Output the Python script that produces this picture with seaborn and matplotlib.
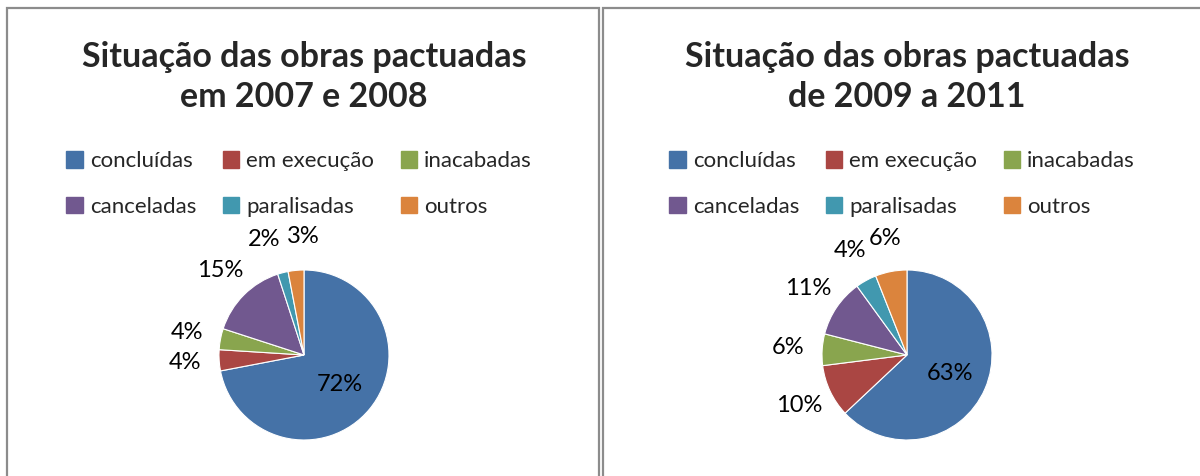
import matplotlib
matplotlib.use("Agg")
import matplotlib.pyplot as plt
import matplotlib.patches as mpatches
import numpy as np
import seaborn as sns

sns.set_theme(style="white")
plt.rcParams['font.family'] = ['Lato', 'DejaVu Sans']

categories = ["concluídas", "em execução", "inacabadas", "canceladas", "paralisadas", "outros"]
values_2007_2008 = [72, 4, 4, 15, 2, 3]
values_2009_2011 = [63, 10, 6, 11, 4, 6]
titles = ["Situação das obras pactuadas\nem 2007 e 2008",
          "Situação das obras pactuadas\nde 2009 a 2011"]
colors = sns.color_palette(["#4572A7", "#AA4643", "#89A54E", "#71588F", "#4198AF", "#DB843D"])

W, H = 1200, 476
fig = plt.figure(figsize=(12, 4.76), dpi=100)

# panel borders
for x0, x1 in [(7, 599), (603, 1205)]:
    rect = mpatches.Rectangle((x0 / W, -0.05), (x1 - x0) / W, (H - 8) / H + 0.05,
                              transform=fig.transFigure, fill=False,
                              edgecolor="#8c8c8c", linewidth=1.6, clip_on=False)
    fig.patches.append(rect)

centers = [(304, 355), (907, 355)]
R = 85
lim = 1.6
half = R * lim

renderer = fig.canvas.get_renderer()

for (cx, cy), vals, title in zip(centers, [values_2007_2008, values_2009_2011], titles):
    ax = fig.add_axes([(cx - half) / W, (H - cy - half) / H, 2 * half / W, 2 * half / H])
    wedges, texts, autotexts = ax.pie(vals, colors=colors, startangle=90, counterclock=False,
                                      autopct="%d%%", pctdistance=1.4,
                                      wedgeprops=dict(edgecolor="white", linewidth=0.8),
                                      textprops=dict(fontsize=17, color="black"))
    ax.set_xlim(-lim, lim)
    ax.set_ylim(-lim, lim)
    ax.set_aspect("equal")
    ax.axis("off")
    # largest slice label goes inside
    w0 = wedges[0]
    mid = np.deg2rad((w0.theta1 + w0.theta2) / 2)
    autotexts[0].set_position((0.55 * np.cos(mid), 0.55 * np.sin(mid)))

    # resolve overlaps between outside labels by pushing them apart horizontally
    outs = autotexts[1:]
    for _ in range(20):
        moved = False
        for i in range(len(outs)):
            for j in range(i + 1, len(outs)):
                bi = outs[i].get_window_extent(renderer)
                bj = outs[j].get_window_extent(renderer)
                if bi.overlaps(bj):
                    ov = min(bi.x1, bj.x1) - max(bi.x0, bj.x0) + 6
                    dx = ov / 2 / R
                    xi, yi = outs[i].get_position()
                    xj, yj = outs[j].get_position()
                    s = 1 if xi > xj else -1
                    outs[i].set_position((xi + s * dx, yi))
                    outs[j].set_position((xj - s * dx, yj))
                    moved = True
        if not moved:
            break

    fig.text(cx / W, 1 - 77 / H, title, ha="center", va="center", fontsize=24.5,
             fontweight="bold", linespacing=1.3)

    order = [0, 3, 1, 4, 2, 5]
    handles = [mpatches.Patch(color=colors[i]) for i in order]
    labels = [categories[i] for i in order]
    fig.legend(handles, labels, loc="center", bbox_to_anchor=((cx - 5) / W, 1 - 184 / H),
               ncol=3, frameon=False, fontsize=16, handlelength=0.75, handleheight=0.75,
               handletextpad=0.3, columnspacing=1.2, labelspacing=1.15)

fig.savefig("out.png", dpi=100, facecolor="white")
